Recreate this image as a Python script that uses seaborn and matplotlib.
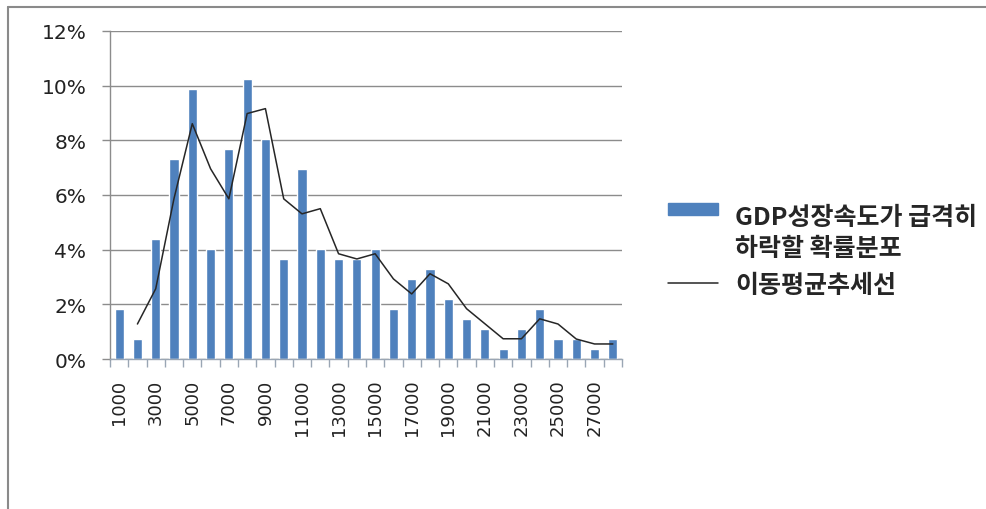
import numpy as np
import pandas as pd
import matplotlib
matplotlib.use('Agg')
import matplotlib.pyplot as plt
import seaborn as sns
from matplotlib.patches import Rectangle
from matplotlib.lines import Line2D
from matplotlib.ticker import FixedLocator, FixedFormatter, PercentFormatter

# bar categories (GDP per capita bins) and probability shares (%)
categories = [str(v) for v in range(1000, 29000, 1000)]
shares = [1.83, 0.73, 4.40, 7.33, 9.89, 4.03, 7.69, 10.26, 8.06, 3.66,
          6.96, 4.03, 3.66, 3.66, 4.03, 1.83, 2.93, 3.30, 2.20, 1.47,
          1.10, 0.37, 1.10, 1.83, 0.73, 0.73, 0.37, 0.73]
# 2-period moving average trend line, starting at the second category
trend = [1.28, 2.57, 5.87, 8.61, 6.96, 5.86, 8.98, 9.16, 5.86, 5.31,
         5.50, 3.85, 3.66, 3.85, 2.93, 2.38, 3.12, 2.75, 1.84, 1.29,
         0.74, 0.74, 1.47, 1.28, 0.73, 0.55, 0.55]
tick_labels = categories[::2]

bar_label = 'GDP성장속도가 급격히\n하락할 확률분포'
line_label = '이동평균추세선'

df = pd.DataFrame({'bin': categories, 'share': shares})

sns.set_style('white')
plt.rcParams['font.family'] = ['DejaVu Sans']
kr = ['Noto Sans CJK KR', 'DejaVu Sans']

fig = plt.figure(figsize=(9.86, 5.10), dpi=100)
ax = fig.add_axes([110 / 986, 1 - 360 / 510, 512 / 986, 328 / 510])

sns.barplot(data=df, x='bin', y='share', order=categories, color='#4F81BD',
            saturation=1, width=0.5, ax=ax, zorder=2)
sns.lineplot(x=np.arange(1, len(categories)), y=trend, color='#262626',
             linewidth=1.1, ax=ax, zorder=3)

ax.set_xlim(-0.5, len(categories) - 0.5)
ax.set_ylim(0, 12)
ax.set_xlabel('')
ax.set_ylabel('')

# y axis
ax.yaxis.set_major_locator(FixedLocator(np.arange(0, 13, 2)))
ax.yaxis.set_major_formatter(PercentFormatter(decimals=0))
ax.grid(axis='y', color='#8c8c8c', linewidth=1.0, zorder=0)
ax.set_axisbelow(True)
ax.tick_params(axis='y', which='major', direction='out', length=6,
               color='#8c8c8c', width=1, pad=11, labelsize=14.5,
               labelcolor='#222222', left=True, labelfontfamily='DejaVu Sans')

# x axis: tick marks between categories, labels on every other bar
ax.xaxis.set_major_locator(FixedLocator(np.arange(-0.5, len(categories), 1)))
ax.xaxis.set_major_formatter(plt.NullFormatter())
ax.xaxis.set_minor_locator(FixedLocator(np.arange(0, len(categories), 2)))
ax.xaxis.set_minor_formatter(FixedFormatter(tick_labels))
ax.tick_params(axis='x', which='major', direction='out', length=6,
               color='#9aa6b4', width=1, bottom=True)
ax.tick_params(axis='x', which='minor', length=0, pad=14, labelsize=13,
               labelrotation=90, labelcolor='#222222',
               labelfontfamily='DejaVu Sans')

for side in ['top', 'right']:
    ax.spines[side].set_visible(False)
ax.spines['left'].set_color('#8c8c8c')
ax.spines['bottom'].set_color('#9aa6b4')
ax.spines['left'].set_linewidth(1)
ax.spines['bottom'].set_linewidth(1)

# outer chart frame (left and top edges)
fig.add_artist(Line2D([8 / 986, 8 / 986], [0, 1 - 8 / 510],
                      transform=fig.transFigure, color='#8a8a8a', linewidth=1.5))
fig.add_artist(Line2D([8 / 986, 1], [1 - 8 / 510, 1 - 8 / 510],
                      transform=fig.transFigure, color='#8a8a8a', linewidth=1.5))

# legend, drawn like the spreadsheet legend (marker on first text line)
fig.add_artist(Rectangle((668 / 986, 1 - 216 / 510), 50 / 986, 12 / 510,
                         transform=fig.transFigure, color='#4F81BD'))
fig.text(735 / 986, 1 - 206 / 510, bar_label, ha='left', va='top',
         fontsize=18, fontweight='bold', family=kr, linespacing=1.38)
fig.add_artist(Line2D([668 / 986, 718 / 986], [1 - 284 / 510, 1 - 284 / 510],
                      transform=fig.transFigure, color='#262626', linewidth=1.1))
fig.text(735 / 986, 1 - 286 / 510, line_label, ha='left', va='center',
         fontsize=18, fontweight='bold', family=kr)

fig.savefig('out.png', dpi=100)
